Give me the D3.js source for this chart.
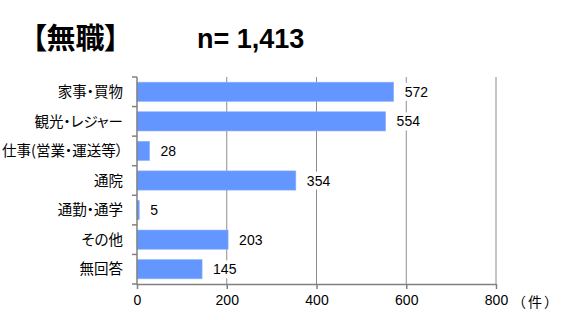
<!DOCTYPE html>
<html><head><meta charset="utf-8">
<script src="https://cdn.jsdelivr.net/npm/d3@7"></script>
<style>
body{margin:0;background:#fff;}
svg{display:block;}
.jp{font-family:"Noto Sans CJK JP","Noto Sans",sans-serif;font-feature-settings:"palt";}
.jpw{font-family:"Noto Sans CJK JP","Noto Sans",sans-serif;}
.num{font-family:"Liberation Sans",Arial,sans-serif;}
</style>
</head><body>
<script>
const categories = ["家事・買物","観光・レジャー","仕事(営業・運送等）","通院","通勤・通学","その他","無回答"];
const values = [572,554,28,354,5,203,145];
const xTicks = [0,200,400,600,800];
const titleText = "【無職】";
const nText = "n= 1,413";
const unitText = "（件）";

const W=573,H=320;
const svg=d3.select("body").append("svg").attr("width",W).attr("height",H);
const x=d3.scaleLinear().domain([0,800]).range([137,496]);
const y=d3.scaleBand().domain(categories).range([77,284]).paddingInner(0.35).paddingOuter(0.175);

// gridlines
svg.append("g").selectAll("line").data(xTicks.slice(1)).join("line")
  .attr("x1",d=>x(d)).attr("x2",d=>x(d)).attr("y1",77).attr("y2",284)
  .attr("stroke","#8c8c8c").attr("stroke-width",1);

// bars
svg.append("g").selectAll("rect").data(values).join("rect")
  .attr("x",x(0)).attr("y",(d,i)=>y(categories[i]))
  .attr("width",d=>x(d)-x(0)).attr("height",y.bandwidth())
  .attr("fill","#6496ff").attr("stroke","#8fb2ff").attr("stroke-width",0.6);

// value labels with white bg
const lg=svg.append("g");
values.forEach((v,i)=>{
  const t=lg.append("text").attr("class","num").attr("x",x(v)+11)
    .attr("y",y(categories[i])+y.bandwidth()/2).attr("dy","0.36em")
    .attr("font-size",14).attr("fill","#000").text(v);
  const b=t.node().getBBox();
  lg.insert("rect","text").attr("x",b.x-1).attr("y",b.y-1).attr("width",b.width+2).attr("height",b.height+2).attr("fill","#fff");
});

// axes
const xAxis=svg.append("g").attr("transform","translate(0,284)")
  .call(d3.axisBottom(x).tickValues(xTicks).tickSize(5).tickPadding(6).tickSizeOuter(0));
xAxis.select(".domain").attr("stroke","#808080").attr("stroke-width",1.5);
xAxis.selectAll(".tick line").attr("stroke","#808080").attr("stroke-width",1.5);
xAxis.selectAll(".tick text").attr("class","num").attr("font-size",14).attr("fill","#000");

const yg=svg.append("g");
yg.append("line").attr("x1",137).attr("x2",137).attr("y1",77).attr("y2",285).attr("stroke","#808080").attr("stroke-width",1.5);
const bounds=d3.range(categories.length+1).map(i=>77+i*(207/categories.length));
yg.selectAll("line.t").data(bounds).join("line").attr("class","t")
  .attr("x1",132).attr("x2",137).attr("y1",d=>d).attr("y2",d=>d).attr("stroke","#808080").attr("stroke-width",1.5);
yg.selectAll("text").data(categories).join("text").attr("class","jp")
  .attr("x",123).attr("y",d=>y(d)+y.bandwidth()/2).attr("dy","0.36em")
  .attr("text-anchor","end").attr("font-size",14.5).attr("fill","#000").text(d=>d);

// unit
svg.append("text").attr("class","jpw").attr("x",512).attr("y",302).attr("dy","0.36em")
  .attr("font-size",14).attr("letter-spacing",2).attr("fill","#000").text(unitText);

// title
svg.append("text").attr("class","jp").attr("x",32).attr("y",49)
  .attr("font-size",29).attr("font-weight","bold").attr("fill","#000").text(titleText);
svg.append("text").attr("class","num").attr("x",197).attr("y",48)
  .attr("font-size",27).attr("font-weight","bold").attr("fill","#000").text(nText);
</script>
</body></html>
